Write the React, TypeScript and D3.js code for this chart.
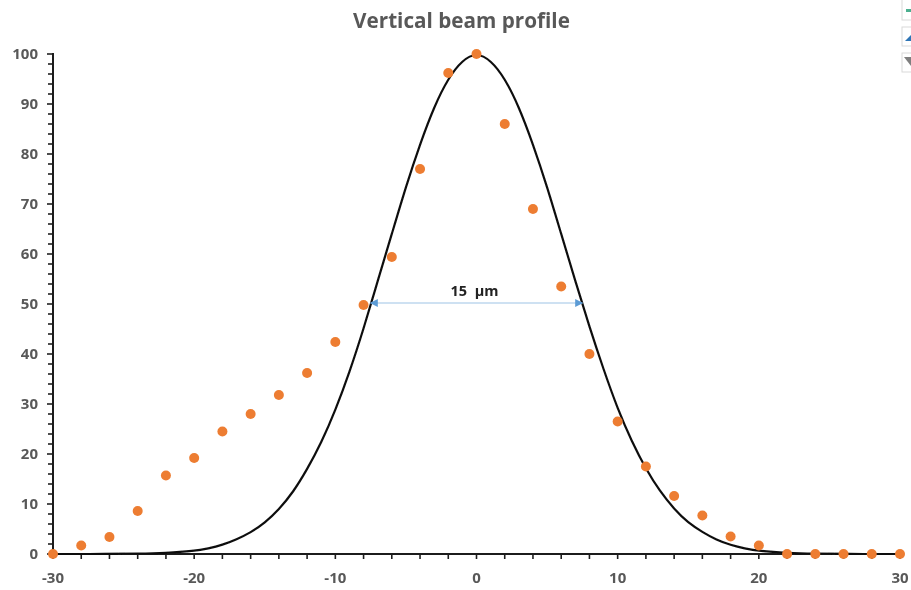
import React from "react";
import * as d3 from "d3";

const W = 911, H = 590;
const xTicks = [-30, -20, -10, 0, 10, 20, 30];
const yTicks = [0, 10, 20, 30, 40, 50, 60, 70, 80, 90, 100];
const xMinor = d3.range(-30, 31, 2);
const yMinor = d3.range(0, 101, 2);

const pointX = [-30,-28,-26,-24,-22,-20,-18,-16,-14,-12,-10,-8,-6,-4,-2,0,2,4,6,8,10,12,14,16,18,20,22,24,26,28,30];
const pointY = [0,1.7,3.4,8.6,15.7,19.2,24.5,28,31.8,36.2,42.4,49.8,59.4,77,96.2,100,86,69,53.5,40,26.5,17.5,11.6,7.7,3.5,1.7,0,0,0,0,0];

const curveX = [-30,-26,-24,-22,-20,-19,-18,-17,-16,-15,-14,-13,-12,-11,-10,-9,-8,-7,-6,-5,-4,-3,-2,-1,0,1,2,3,4,5,6,7,8,9,10,11,12,13,14,15,16,17,18,19,20,22,24,26,30];
const curveY = [0,0,0.05,0.2,0.6,1.1,1.8,2.9,4.3,6.2,8.9,12.3,16.9,22.2,28.7,36.3,45,54.6,64,73.5,82,89.5,95.2,98.8,100.3,98.8,95.2,89.5,82,73.5,64,54.6,45.4,36.9,29,22.5,17,12.5,9,6.2,4.4,2.8,1.8,1.1,0.6,0.2,0.05,0,0];

const arrowX = [-7.5, 7.5];
const arrowY = 50;

const x = d3.scaleLinear().domain([-30, 30]).range([53, 900]);
const y = d3.scaleLinear().domain([0, 100]).range([554, 54]);
const line = d3.line<number>().x((_, i) => x(curveX[i])).y((d) => y(d)).curve(d3.curveBasis);

const font = "'Open Sans', sans-serif";
const grey = "#595959";
const axis = "#1f1f1f";

const iconBoxes = [[-4, 24], [27, 19], [53, 19]];

export default function App() {
  return (
    <svg width={W} height={H} viewBox={`0 0 ${W} ${H}`} style={{ position: "absolute", left: 0, top: 0, background: "#fff" }}>
      <defs>
        <filter id="soft" x="-5%" y="-5%" width="110%" height="110%">
          <feGaussianBlur stdDeviation="0.5" />
        </filter>
        <marker id="arrowEnd" viewBox="0 0 10 10" refX="9" refY="5" markerWidth="9" markerHeight="8" markerUnits="userSpaceOnUse" orient="auto-start-reverse">
          <path d="M0,0 L10,5 L0,10 Z" fill="#5b9bd5" />
        </marker>
      </defs>
      <g filter="url(#soft)">
        <text x={461.5} y={28} textAnchor="middle" fontFamily={font} fontWeight={700} fontSize={20.7} fill={grey}>Vertical beam profile</text>

        <line x1={x(-30)} x2={x(30)} y1={y(0)} y2={y(0)} stroke={axis} strokeWidth={2} />
        <line x1={x(-30)} x2={x(-30)} y1={y(0)} y2={y(100) - 1} stroke={axis} strokeWidth={2} />
        {yMinor.map((v) => (
          <line key={v} x1={x(-30) - (v % 10 === 0 ? 6 : 5)} x2={x(-30)} y1={y(v)} y2={y(v)} stroke={axis} strokeWidth={1.6} />
        ))}
        {xMinor.map((v) => (
          <line key={v} x1={x(v)} x2={x(v)} y1={y(0)} y2={y(0) + 5} stroke={axis} strokeWidth={1.6} />
        ))}
        {yTicks.map((v) => (
          <text key={v} x={38} y={y(v) + 5} textAnchor="end" fontFamily={font} fontWeight={700} fontSize={15} fill={grey}>{v}</text>
        ))}
        {xTicks.map((v) => (
          <text key={v} x={x(v)} y={583} textAnchor="middle" fontFamily={font} fontWeight={700} fontSize={15} fill={grey}>{v}</text>
        ))}

        <path d={line(curveY) ?? ""} fill="none" stroke="#111" strokeWidth={2.2} />

        <line x1={x(arrowX[0])} x2={x(arrowX[1])} y1={y(arrowY) - 1} y2={y(arrowY) - 1} stroke="#9dc3e6" strokeWidth={1.2} markerStart="url(#arrowEnd)" markerEnd="url(#arrowEnd)" />
        <text x={474.5} y={296} textAnchor="middle" fontFamily={font} fontWeight={700} fontSize={14.5} fill="#222" xmlSpace="preserve">15  µm</text>

        {pointX.map((v, i) => (
          <circle key={v} cx={x(v)} cy={y(pointY[i])} r={5} fill="#ed7d31" />
        ))}

        {iconBoxes.map(([top, h], i) => (
          <g key={top}>
            <rect x={902} y={top} width={14} height={h} fill="#fff" stroke="#d9d9d9" />
            {i === 0 && <rect x={906} y={9} width={5} height={3} fill="#4caf8f" />}
            {i === 1 && <path d={`M905,41 L911,35 L911,41 Z`} fill="#2e75b6" />}
            {i === 2 && <path d={`M904,57 L911,57 L911,66 Z`} fill="#7f7f7f" />}
          </g>
        ))}
      </g>
    </svg>
  );
}
